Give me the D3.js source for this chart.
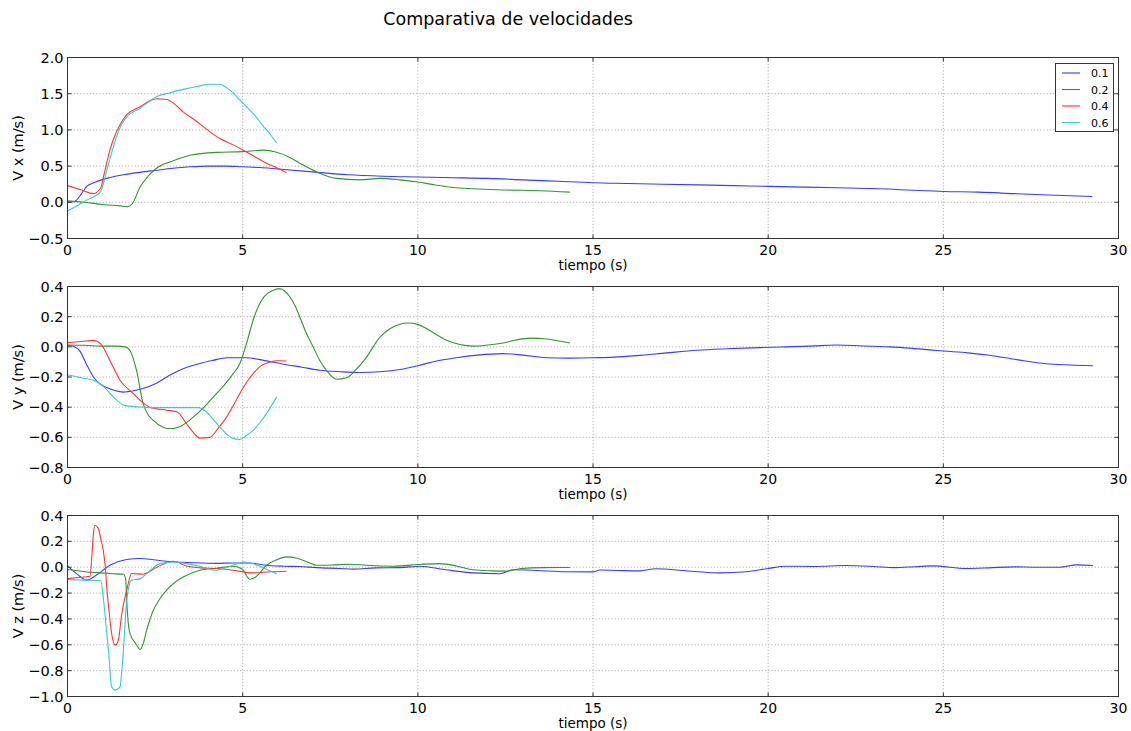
<!DOCTYPE html>
<html>
<head>
<meta charset="utf-8">
<script src="https://cdn.jsdelivr.net/npm/d3@7/dist/d3.min.js"></script>
<style>
  html, body { margin: 0; padding: 0; background: #fff; }
  svg { display: block; font-family: "DejaVu Sans", sans-serif; }
</style>
</head>
<body>
<svg id="chart" width="1131" height="731"></svg>
<script>
// ---------------- DATA ----------------
const chartTitle = "Comparativa de velocidades";
const seriesNames = ["0.1", "0.2", "0.4", "0.6"];
const seriesColors = ["#3a3aff", "#2e962e", "#ff3333", "#33cccc"];
const xTicks = [0, 5, 10, 15, 20, 25, 30];
const xLabel = "tiempo (s)";

// Vx panel
const vxTicks = [-0.5, 0.0, 0.5, 1.0, 1.5, 2.0];
const vx01 = [[0,0.0],[0.2,0.01],[0.4,0.12],[0.55,0.22],[0.8,0.28],[1.2,0.34],[1.6,0.38],[2,0.41],[2.5,0.44],[3,0.47],[3.5,0.49],[4,0.5],[4.5,0.5],[5,0.49],[5.5,0.48],[6,0.46],[7,0.42],[8,0.38],[9,0.36],[10,0.35],[11,0.34],[12,0.33],[13,0.31],[14,0.29],[15,0.27],[16,0.26],[17,0.25],[18,0.24],[19,0.23],[20,0.22],[21,0.21],[22,0.2],[23,0.19],[24,0.17],[25,0.15],[26,0.14],[27,0.12],[28,0.1],[29.25,0.08]];
const vx02 = [[0,0.02],[0.5,0.0],[1.0,-0.03],[1.5,-0.05],[1.72,-0.06],[1.85,-0.02],[2.07,0.21],[2.3,0.36],[2.54,0.47],[3.0,0.57],[3.5,0.65],[4.25,0.69],[5.0,0.7],[5.59,0.72],[5.97,0.69],[6.3,0.63],[6.63,0.54],[7.11,0.42],[7.68,0.33],[8.35,0.31],[8.92,0.33],[9.49,0.31],[10,0.28],[10.5,0.24],[11.1,0.2],[12.5,0.17],[13.5,0.16],[14.34,0.14]];
const vx04 = [[0,0.23],[0.4,0.17],[0.74,0.12],[0.95,0.2],[1.05,0.4],[1.21,0.72],[1.35,0.92],[1.5,1.07],[1.69,1.21],[2.07,1.32],[2.3,1.39],[2.55,1.43],[2.83,1.42],[3.05,1.36],[3.3,1.25],[3.65,1.13],[3.97,1.01],[4.35,0.88],[4.7,0.8],[5.02,0.72],[5.35,0.63],[5.68,0.54],[6.0,0.47],[6.25,0.41]];
const vx06 = [[0,-0.12],[0.3,-0.04],[0.55,0.03],[0.8,0.09],[0.95,0.15],[1.12,0.44],[1.27,0.7],[1.4,0.91],[1.55,1.08],[1.69,1.18],[2.07,1.3],[2.3,1.38],[2.55,1.46],[2.9,1.51],[3.3,1.56],[3.7,1.6],[4.07,1.63],[4.35,1.63],[4.55,1.58],[4.73,1.51],[4.9,1.42],[5.11,1.32],[5.35,1.2],[5.59,1.05],[5.8,0.93],[5.97,0.82]];

// Vy panel
const vyTicks = [-0.8, -0.6, -0.4, -0.2, 0.0, 0.2, 0.4];
const vy01 = [[0,0.01],[0.2,0.0],[0.36,-0.03],[0.55,-0.12],[0.74,-0.2],[0.95,-0.25],[1.12,-0.27],[1.35,-0.29],[1.59,-0.3],[1.92,-0.29],[2.25,-0.27],[2.55,-0.24],[2.9,-0.19],[3.3,-0.145],[3.78,-0.11],[4.15,-0.09],[4.54,-0.072],[5.11,-0.072],[5.6,-0.09],[6.16,-0.115],[6.7,-0.135],[7.2,-0.155],[7.8,-0.165],[8.35,-0.17],[8.92,-0.165],[9.49,-0.15],[10,-0.125],[10.5,-0.095],[11.1,-0.072],[11.7,-0.055],[12.43,-0.045],[13,-0.055],[13.67,-0.072],[14.3,-0.075],[15,-0.072],[15.6,-0.068],[16.24,-0.058],[17.1,-0.04],[17.95,-0.023],[18.8,-0.013],[19.76,-0.005],[20.5,0.0],[21.2,0.005],[21.95,0.012],[22.7,0.006],[23.47,0.0],[24.2,-0.012],[25,-0.028],[25.7,-0.04],[26.32,-0.056],[27.1,-0.085],[27.94,-0.112],[28.6,-0.12],[29.27,-0.125]];
const vy02 = [[0,0.012],[0.5,0.01],[1.0,0.005],[1.4,0.005],[1.65,0.0],[1.78,-0.023],[1.97,-0.156],[2.16,-0.377],[2.3,-0.45],[2.45,-0.487],[2.7,-0.53],[2.92,-0.543],[3.2,-0.53],[3.59,-0.466],[3.9,-0.4],[4.16,-0.333],[4.45,-0.26],[4.73,-0.178],[4.92,-0.111],[5.11,0.021],[5.25,0.14],[5.4,0.242],[5.6,0.33],[5.87,0.375],[6.06,0.386],[6.2,0.37],[6.35,0.33],[6.5,0.27],[6.63,0.198],[6.8,0.1],[7.01,0.0],[7.2,-0.09],[7.39,-0.156],[7.68,-0.215],[7.97,-0.205],[8.2,-0.16],[8.5,-0.08],[8.92,0.065],[9.2,0.12],[9.49,0.15],[9.72,0.158],[10,0.149],[10.4,0.1],[10.82,0.043],[11.2,0.015],[11.58,0.005],[12.0,0.012],[12.43,0.025],[12.8,0.045],[13.2,0.058],[13.67,0.052],[14.0,0.04],[14.34,0.025]];
const vy04 = [[0,0.028],[0.4,0.035],[0.74,0.043],[0.95,0.02],[1.21,-0.09],[1.5,-0.222],[1.88,-0.31],[2.1,-0.36],[2.35,-0.4],[2.83,-0.42],[3.12,-0.43],[3.4,-0.51],[3.6,-0.57],[3.78,-0.605],[4.07,-0.6],[4.3,-0.54],[4.54,-0.466],[4.73,-0.39],[4.92,-0.31],[5.1,-0.24],[5.3,-0.178],[5.5,-0.13],[5.78,-0.1],[6.0,-0.092],[6.25,-0.094]];
const vy06 = [[0,-0.185],[0.4,-0.205],[0.74,-0.222],[1.02,-0.26],[1.31,-0.333],[1.64,-0.39],[2.0,-0.398],[2.35,-0.403],[2.9,-0.403],[3.4,-0.403],[3.73,-0.403],[3.97,-0.432],[4.15,-0.48],[4.35,-0.532],[4.55,-0.58],[4.73,-0.607],[4.92,-0.614],[5.1,-0.59],[5.3,-0.554],[5.5,-0.5],[5.68,-0.443],[5.97,-0.333]];

// Vz panel
const vzTicks = [-1.0, -0.8, -0.6, -0.4, -0.2, 0.0, 0.2, 0.4];
const vz01 = [[0,0.01],[0.26,-0.05],[0.55,-0.1],[0.83,-0.06],[1.21,0.015],[1.69,0.06],[2.07,0.067],[2.45,0.058],[2.83,0.046],[3.3,0.038],[3.78,0.033],[4.25,0.03],[4.73,0.033],[5.2,0.033],[5.68,0.015],[6.16,0.008],[6.63,0.005],[7.11,-0.003],[7.77,-0.01],[8.16,-0.015],[8.8,-0.005],[9.49,-0.003],[10.06,0.008],[10.8,-0.02],[11.58,-0.044],[12.34,-0.05],[12.73,-0.02],[13.4,-0.025],[14.2,-0.035],[15,-0.036],[15.2,-0.022],[15.7,-0.025],[16.33,-0.028],[16.8,-0.012],[17.47,-0.023],[18.0,-0.035],[18.62,-0.044],[19.38,-0.035],[20,-0.01],[20.5,0.008],[21.3,0.006],[22.23,0.013],[23.0,0.006],[23.6,-0.003],[24.2,0.004],[24.7,0.01],[25.66,-0.01],[26.3,-0.005],[27,0.003],[27.7,0.0],[28.32,0.0],[28.8,0.018],[29.27,0.013]];
const vz02 = [[0,-0.018],[0.5,-0.035],[0.95,-0.044],[1.3,-0.05],[1.6,-0.054],[1.66,-0.09],[1.69,-0.25],[1.73,-0.42],[1.78,-0.51],[1.97,-0.6],[2.07,-0.637],[2.15,-0.6],[2.26,-0.487],[2.45,-0.333],[2.6,-0.26],[2.83,-0.178],[3.05,-0.12],[3.3,-0.075],[3.78,-0.023],[4.25,-0.008],[4.73,0.008],[4.95,-0.01],[5.02,-0.023],[5.12,-0.07],[5.2,-0.093],[5.35,-0.08],[5.5,-0.04],[5.68,0.015],[5.95,0.055],[6.25,0.08],[6.55,0.07],[6.9,0.035],[7.11,0.015],[7.6,0.018],[8.06,0.023],[8.54,0.015],[9.3,0.008],[10.1,0.023],[10.63,0.028],[11.1,0.01],[11.58,-0.02],[12.1,-0.028],[12.53,-0.03],[12.96,-0.01],[13.6,-0.003],[14.34,-0.002]];
const vz04 = [[0,-0.088],[0.3,-0.08],[0.64,-0.07],[0.7,0.1],[0.74,0.26],[0.78,0.325],[0.88,0.3],[0.95,0.22],[1.02,0.13],[1.08,0.0],[1.12,-0.152],[1.19,-0.35],[1.26,-0.513],[1.36,-0.603],[1.45,-0.565],[1.55,-0.358],[1.62,-0.26],[1.69,-0.178],[1.83,-0.049],[2.16,-0.054],[2.55,0.0],[3.02,0.046],[3.4,0.01],[3.8,-0.005],[4.25,-0.01],[4.73,-0.023],[5.3,-0.044],[5.8,-0.035],[6.25,-0.031]];
const vz06 = [[0,-0.095],[0.5,-0.1],[0.95,-0.105],[1.02,-0.23],[1.1,-0.45],[1.17,-0.642],[1.26,-0.925],[1.36,-0.951],[1.5,-0.925],[1.55,-0.8],[1.59,-0.667],[1.64,-0.45],[1.69,-0.255],[1.83,-0.1],[2.07,-0.09],[2.26,-0.049],[2.64,0.028],[3.02,0.04],[3.4,0.028],[3.78,0.008],[4.25,-0.023],[4.5,-0.005],[4.73,0.015],[5.02,0.04],[5.25,0.03],[5.49,0.008],[5.75,-0.025],[5.97,-0.05]];

const panels = [
  { top: 57.5, bottom: 238.5, yDomain: [-0.5, 2.0], ticks: vxTicks, label: "V x (m/s)", series: [vx01, vx02, vx04, vx06], legend: true },
  { top: 286.5, bottom: 467.5, yDomain: [-0.8, 0.4], ticks: vyTicks, label: "V y (m/s)", series: [vy01, vy02, vy04, vy06], legend: false },
  { top: 515.5, bottom: 696.5, yDomain: [-1.0, 0.4], ticks: vzTicks, label: "V z (m/s)", series: [vz01, vz02, vz04, vz06], legend: false }
];

// ---------------- DRAW ----------------
const svg = d3.select("#chart");
const left = 67.5, right = 1118.5;
const x = d3.scaleLinear().domain([0, 30]).range([left, right]);
const fmt = v => (v < 0 ? "\u2212" : "") + Math.abs(v).toFixed(1);

svg.append("text")
  .attr("x", 508).attr("y", 25)
  .attr("text-anchor", "middle")
  .attr("font-size", 17.5)
  .attr("fill", "#000")
  .text(chartTitle);

panels.forEach(p => {
  const y = d3.scaleLinear().domain(p.yDomain).range([p.bottom, p.top]);
  const g = svg.append("g");

  // grid
  g.selectAll(".gx").data(xTicks.slice(1, -1)).enter().append("line")
    .attr("x1", d => x(d)).attr("x2", d => x(d))
    .attr("y1", p.top).attr("y2", p.bottom)
    .attr("stroke", "#9a9a9a").attr("stroke-width", 0.8).attr("stroke-dasharray", "1.2,2");
  g.selectAll(".gy").data(p.ticks.slice(1, -1)).enter().append("line")
    .attr("x1", left).attr("x2", right)
    .attr("y1", d => y(d)).attr("y2", d => y(d))
    .attr("stroke", "#9a9a9a").attr("stroke-width", 0.8).attr("stroke-dasharray", "1.2,2");

  // lines
  const line = d3.line().x(d => x(d[0])).y(d => y(d[1])).curve(d3.curveMonotoneX);
  p.series.forEach((s, i) => {
    g.append("path").datum(s)
      .attr("d", line)
      .attr("fill", "none")
      .attr("stroke", seriesColors[i])
      .attr("stroke-width", 1.1)
      .attr("stroke-linejoin", "round");
  });

  // frame
  g.append("rect")
    .attr("x", left).attr("y", p.top)
    .attr("width", right - left).attr("height", p.bottom - p.top)
    .attr("fill", "none").attr("stroke", "#333").attr("stroke-width", 1);

  // ticks (inward, all sides)
  xTicks.forEach(t => {
    g.append("line").attr("x1", x(t)).attr("x2", x(t)).attr("y1", p.bottom).attr("y2", p.bottom - 4).attr("stroke", "#333");
    g.append("line").attr("x1", x(t)).attr("x2", x(t)).attr("y1", p.top).attr("y2", p.top + 4).attr("stroke", "#333");
  });
  p.ticks.forEach(t => {
    g.append("line").attr("x1", left).attr("x2", left + 4).attr("y1", y(t)).attr("y2", y(t)).attr("stroke", "#333");
    g.append("line").attr("x1", right).attr("x2", right - 4).attr("y1", y(t)).attr("y2", y(t)).attr("stroke", "#333");
  });

  // tick labels
  g.selectAll(".xl").data(xTicks).enter().append("text")
    .attr("x", d => x(d)).attr("y", p.bottom + 16)
    .attr("text-anchor", "middle").attr("font-size", 14).attr("fill", "#000")
    .text(d => d);
  g.selectAll(".yl").data(p.ticks).enter().append("text")
    .attr("x", left - 4).attr("y", d => y(d) + 5)
    .attr("text-anchor", "end").attr("font-size", 14.5).attr("fill", "#000")
    .text(fmt);

  // axis labels
  g.append("text")
    .attr("x", (left + right) / 2).attr("y", p.bottom + 31.2)
    .attr("text-anchor", "middle").attr("font-size", 13.5).attr("fill", "#000")
    .text(xLabel);
  g.append("text")
    .attr("transform", `translate(23,${(p.top + p.bottom) / 2}) rotate(-90)`)
    .attr("text-anchor", "middle").attr("font-size", 14.5).attr("fill", "#000")
    .text(p.label);

  // legend
  if (p.legend) {
    const lg = g.append("g");
    lg.append("rect").attr("x", 1055.5).attr("y", 63.5).attr("width", 58).attr("height", 68)
      .attr("fill", "#fff").attr("stroke", "#333").attr("stroke-width", 1);
    seriesNames.forEach((n, i) => {
      const yy = 73 + i * 16.5;
      lg.append("line").attr("x1", 1062).attr("x2", 1080).attr("y1", yy).attr("y2", yy)
        .attr("stroke", seriesColors[i]).attr("stroke-width", 1.1);
      lg.append("text").attr("x", 1091).attr("y", yy + 4).attr("font-size", 11).attr("fill", "#000").text(n);
    });
  }
});
</script>
</body>
</html>
